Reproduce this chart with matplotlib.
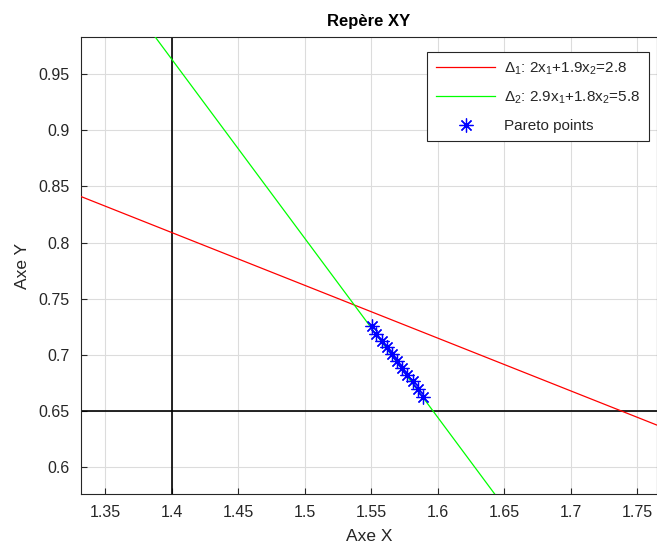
# coding:utf8
"""
Repère XY : deux droites et les points de Pareto
"""
from matplotlib import pyplot as plt

plt.rcParams['font.family'] = ['Liberation Sans', 'DejaVu Sans']
plt.rcParams['mathtext.fontset'] = 'custom'
plt.rcParams['mathtext.rm'] = 'Liberation Sans'
plt.rcParams['mathtext.it'] = 'Liberation Sans'

# droites (extrémités)
d1_x = [1.332, 1.765]
d1_y = [0.841, 0.637]
d2_x = [1.3876, 1.643]
d2_y = [0.9836, 0.5754]

# repères noirs
x_ref = 1.4
y_ref = 0.65

# points de Pareto
pareto_x = [1.5508, 1.5533, 1.5578, 1.5618, 1.5656, 1.5698,
            1.5731, 1.5773, 1.5813, 1.5851, 1.5889]
pareto_y = [0.7256, 0.7181, 0.7119, 0.7068, 0.7009, 0.6943,
            0.6884, 0.6821, 0.6762, 0.6696, 0.6622]

xticks = [1.35, 1.4, 1.45, 1.5, 1.55, 1.6, 1.65, 1.7, 1.75]
yticks = [0.6, 0.65, 0.7, 0.75, 0.8, 0.85, 0.9, 0.95]

fig = plt.figure(figsize=(6.57, 5.5), dpi=100)
ax = fig.add_axes([0.1233, 0.1013, 0.8767, 0.832])

txt = '#262626'

ax.axvline(x_ref, color='black', linewidth=1.2, zorder=2)
ax.axhline(y_ref, color='black', linewidth=1.2, zorder=2)
ax.plot(d1_x, d1_y, color='red', linewidth=0.9,
        label=r'$\Delta_{1}$: 2x$_{1}$+1.9x$_{2}$=2.8', zorder=3)
ax.plot(d2_x, d2_y, color='#00ff00', linewidth=0.9,
        label=r'$\Delta_{2}$: 2.9x$_{1}$+1.8x$_{2}$=5.8', zorder=3)
ax.plot(pareto_x, pareto_y, linestyle='none', marker=(8, 2, 0),
        markersize=10, markeredgewidth=0.9, color='blue',
        label='Pareto points', zorder=4)

ax.set_xlim(1.332, 1.7648)
ax.set_ylim(0.5754, 0.9836)
ax.set_xticks(xticks)
ax.set_xticklabels(['%g' % v for v in xticks])
ax.set_yticks(yticks)
ax.set_yticklabels(['%g' % v for v in yticks])
ax.tick_params(direction='in', length=4, width=0.8, colors=txt,
               labelsize=11.5, pad=8)
ax.grid(True, color='#dcdcdc', linewidth=0.8)
ax.set_axisbelow(True)
for s in ax.spines.values():
    s.set_color(txt)
    s.set_linewidth(0.8)

ax.set_title('Repère XY', fontsize=12, fontweight='bold', color='black', pad=8)
ax.set_xlabel('Axe X', fontsize=12.5, color=txt, labelpad=6)
ax.set_ylabel('Axe Y', fontsize=12.5, color=txt, labelpad=6)

leg = ax.legend(loc='upper right', bbox_to_anchor=(0.986, 0.967),
                borderaxespad=0, fontsize=11, handlelength=3.9,
                handletextpad=0.6, fancybox=False, framealpha=1,
                edgecolor=txt, borderpad=0.55, labelspacing=0.85)
leg.get_frame().set_linewidth(0.8)
for t in leg.get_texts():
    t.set_color(txt)

fig.savefig('out.png', dpi=100)
